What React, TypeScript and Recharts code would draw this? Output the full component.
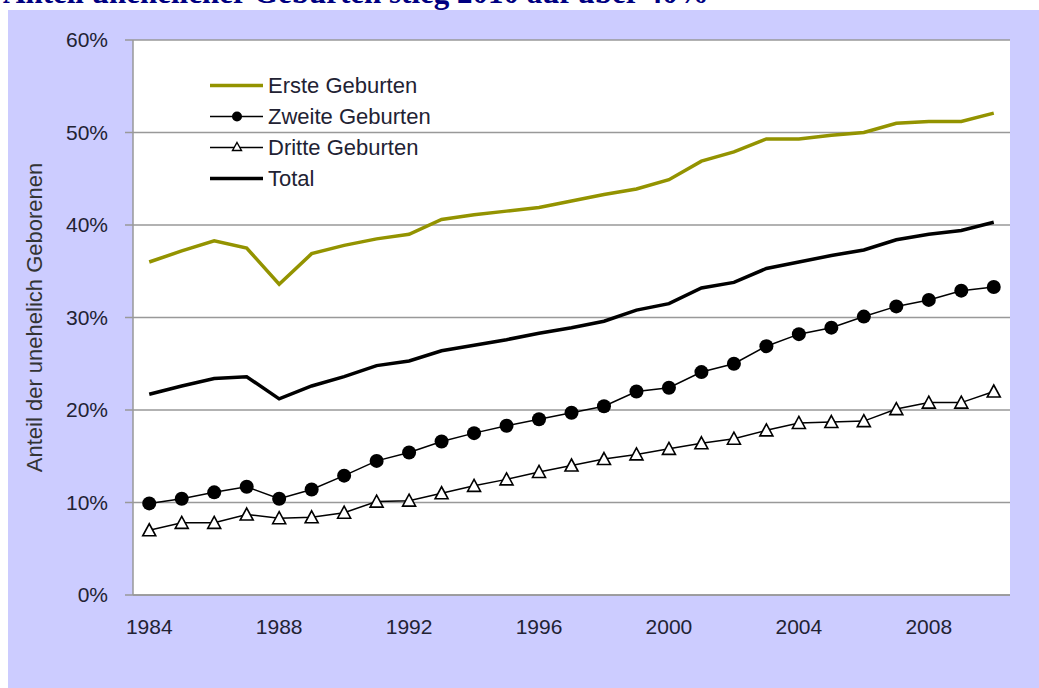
import React from 'react';
import { LineChart, Line, XAxis, YAxis, CartesianGrid, Legend } from 'recharts';

const years = [1984, 1985, 1986, 1987, 1988, 1989, 1990, 1991, 1992, 1993, 1994, 1995, 1996, 1997, 1998, 1999, 2000, 2001, 2002, 2003, 2004, 2005, 2006, 2007, 2008, 2009, 2010];
const ersteGeburten = [36.0, 37.2, 38.3, 37.5, 33.6, 36.9, 37.8, 38.5, 39.0, 40.6, 41.1, 41.5, 41.9, 42.6, 43.3, 43.9, 44.9, 46.9, 47.9, 49.3, 49.3, 49.7, 50.0, 51.0, 51.2, 51.2, 52.1];
const zweiteGeburten = [9.9, 10.4, 11.1, 11.7, 10.4, 11.4, 12.9, 14.5, 15.4, 16.6, 17.5, 18.3, 19.0, 19.7, 20.4, 22.0, 22.4, 24.1, 25.0, 26.9, 28.2, 28.9, 30.1, 31.2, 31.9, 32.9, 33.3];
const dritteGeburten = [7.0, 7.8, 7.8, 8.7, 8.3, 8.4, 8.9, 10.1, 10.2, 11.0, 11.8, 12.5, 13.3, 14.0, 14.7, 15.2, 15.8, 16.4, 16.9, 17.8, 18.6, 18.7, 18.8, 20.1, 20.8, 20.8, 22.0];
const totalGeburten = [21.7, 22.6, 23.4, 23.6, 21.2, 22.6, 23.6, 24.8, 25.3, 26.4, 27.0, 27.6, 28.3, 28.9, 29.6, 30.8, 31.5, 33.2, 33.8, 35.3, 36.0, 36.7, 37.3, 38.4, 39.0, 39.4, 40.3];

const yTicks = [0, 10, 20, 30, 40, 50, 60];
const xLabelYears = [1984, 1988, 1992, 1996, 2000, 2004, 2008];

const seriesNames = ['Erste Geburten', 'Zweite Geburten', 'Dritte Geburten', 'Total'];
const title = 'Anteil unehelicher Geburten stieg 2010 auf über 40%';
const yLabel = 'Anteil der unehelich Geborenen';

const data = years.map((year, i) => ({
  year,
  erste: ersteGeburten[i],
  zweite: zweiteGeburten[i],
  dritte: dritteGeburten[i],
  total: totalGeburten[i],
}));

const boundaryTicks = [...years.map((y) => y - 0.5), years[years.length - 1] + 0.5];
const xDomain = [years[0] - 0.5, years[years.length - 1] + 0.5];

const OLIVE = '#939300';
const GRID = '#999999';
const TEXT = '#222233';
const FONT = '"Liberation Sans", Arial, sans-serif';

const Triangle = (props: any) => {
  const { cx, cy, index } = props;
  if (cx == null || cy == null) return <g key={`t-${index}`} />;
  return (
    <path
      key={`t-${index}`}
      d={`M${cx},${cy - 6.5} L${cx + 6.5},${cy + 5.5} L${cx - 6.5},${cy + 5.5} Z`}
      fill="#ffffff"
      stroke="#000000"
      strokeWidth={1.6}
    />
  );
};

const LegendContent = () => (
  <div style={{ fontFamily: FONT }}>
    {seriesNames.map((name, i) => (
      <div key={name} style={{ display: 'flex', alignItems: 'center', height: 31 }}>
        <svg width={58} height={31} style={{ display: 'block' }}>
          {i === 0 && <line x1={0} x2={53} y1={15.5} y2={15.5} stroke={OLIVE} strokeWidth={3.5} />}
          {i === 1 && (
            <g>
              <line x1={0} x2={53} y1={15.5} y2={15.5} stroke="#000" strokeWidth={1.5} />
              <circle cx={27} cy={15.5} r={5} fill="#000" />
            </g>
          )}
          {i === 2 && (
            <g>
              <line x1={0} x2={53} y1={15.5} y2={15.5} stroke="#000" strokeWidth={1.5} />
              <path d="M27,10.5 L31.5,18.5 L22.5,18.5 Z" fill="#fff" stroke="#000" strokeWidth={1.4} />
            </g>
          )}
          {i === 3 && <line x1={0} x2={53} y1={15.5} y2={15.5} stroke="#000" strokeWidth={3.5} />}
        </svg>
        <span style={{ fontSize: 22, color: TEXT, whiteSpace: 'nowrap' }}>{name}</span>
      </div>
    ))}
  </div>
);

export default function App() {
  return (
    <div style={{ position: 'absolute', left: 0, top: 0, width: 1039, height: 688, background: '#ffffff', overflow: 'hidden' }}>
      <div
        style={{
          position: 'absolute',
          left: 3,
          top: -23,
          fontFamily: '"Liberation Serif", "Times New Roman", serif',
          fontWeight: 'bold',
          fontSize: 31,
          lineHeight: '31px',
          color: '#000080',
          whiteSpace: 'nowrap',
        }}
      >
        {title}
      </div>
      <div style={{ position: 'absolute', left: 8, top: 10, width: 1031, height: 678, background: '#ccccff' }}>
        <LineChart
          width={1031}
          height={678}
          data={data}
          margin={{ top: 30, right: 29, left: 0, bottom: 43 }}
          style={{ fontFamily: FONT }}
        >
          <CartesianGrid vertical={false} stroke={GRID} strokeWidth={1.5} fill="#ffffff" />
          <XAxis
            xAxisId="b"
            dataKey="year"
            type="number"
            domain={xDomain}
            ticks={boundaryTicks}
            interval={0}
            allowDecimals
            tick={false}
            tickLine={{ stroke: GRID, strokeWidth: 1.5 }}
            tickSize={8}
            axisLine={{ stroke: GRID, strokeWidth: 1.5 }}
            height={10}
          />
          <XAxis
            xAxisId="l"
            dataKey="year"
            type="number"
            domain={xDomain}
            ticks={xLabelYears}
            interval={0}
            axisLine={false}
            tickLine={false}
            tickSize={0}
            tickMargin={14}
            height={40}
            tick={{ fill: TEXT, fontSize: 21 }}
          />
          <YAxis
            type="number"
            domain={[0, 60]}
            ticks={yTicks}
            interval={0}
            tickFormatter={(v: number) => `${v}%`}
            width={125}
            tickSize={8}
            tickMargin={17}
            axisLine={{ stroke: GRID, strokeWidth: 1.5 }}
            tickLine={{ stroke: GRID, strokeWidth: 1.5 }}
            tick={{ fill: TEXT, fontSize: 21 }}
            label={{
              value: yLabel,
              angle: -90,
              position: 'insideLeft',
              offset: 26,
              style: { textAnchor: 'middle', fontSize: 22, fill: '#333333' },
            }}
          />
          <Legend
            layout="vertical"
            align="center"
            verticalAlign="middle"
            content={LegendContent}
            wrapperStyle={{ left: 202, top: 60, width: 'auto', height: 'auto' }}
          />
          <Line xAxisId="b" dataKey="erste" name={seriesNames[0]} stroke={OLIVE} strokeWidth={3.5} dot={false} isAnimationActive={false} />
          <Line
            xAxisId="b"
            dataKey="zweite"
            name={seriesNames[1]}
            stroke="#000000"
            strokeWidth={1.5}
            dot={{ r: 7, fill: '#000000', stroke: '#000000', strokeWidth: 0 }}
            isAnimationActive={false}
          />
          <Line
            xAxisId="b"
            dataKey="dritte"
            name={seriesNames[2]}
            stroke="#000000"
            strokeWidth={1.5}
            dot={Triangle}
            isAnimationActive={false}
          />
          <Line xAxisId="l" dataKey="total" name={seriesNames[3]} stroke="#000000" strokeWidth={3.5} dot={false} isAnimationActive={false} />
        </LineChart>
      </div>
    </div>
  );
}
